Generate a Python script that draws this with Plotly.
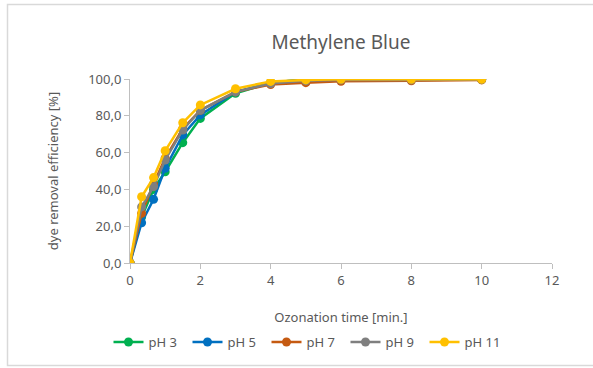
import plotly.graph_objects as go

times = [0, 0.33, 0.67, 1, 1.5, 2, 3, 4, 5, 6, 8, 10]
ph3 = [0, 25, 40, 49.6, 65.4, 78.6, 92.2, 98.0, 99.8, 99.8, 99.8, 99.8]
ph5 = [0, 21.9, 34.6, 51.5, 69.6, 80.5, 93.0, 98.0, 99.8, 99.8, 99.8, 99.8]
ph7 = [0, 27, 43, 57, 73, 83, 93.0, 97.0, 98.0, 98.8, 99.0, 99.5]
ph9 = [0, 30.5, 41.5, 56, 72.3, 83, 93.0, 97.5, 99.0, 99.5, 99.5, 99.7]
ph11 = [0, 36, 46.4, 61, 76.2, 85.9, 94.7, 98.7, 99.5, 99.8, 99.8, 99.8]

series = [
    ("pH 3", ph3, "#00B050"),
    ("pH 5", ph5, "#0070C0"),
    ("pH 7", ph7, "#C55A11"),
    ("pH 9", ph9, "#7F7F7F"),
    ("pH 11", ph11, "#FFC000"),
]

FONT = "Noto Sans"
fig = go.Figure()
for name, vals, col in series:
    fig.add_trace(go.Scatter(
        x=times, y=vals, name=name, mode="lines+markers",
        line=dict(color=col, width=2.5),
        marker=dict(color=col, size=9),
    ))

fig.update_layout(
    width=593, height=368,
    margin=dict(l=130, r=41, t=79, b=105, autoexpand=False),
    paper_bgcolor="white", plot_bgcolor="white",
    separators=",.",
    font=dict(family=FONT, color="#595959", size=13),
    title=dict(text="Methylene Blue", x=(130 + 552) / 2 / 593, xanchor="center",
               y=1 - 42 / 368, yanchor="middle",
               font=dict(size=19, color="#595959", family=FONT)),
    xaxis=dict(range=[0, 12], dtick=2, showgrid=False, zeroline=False,
               showline=True, linecolor="#BFBFBF", linewidth=1,
               ticks="outside", ticklen=5, tickcolor="#BFBFBF",
               tickfont=dict(size=13, color="#595959"),
               title=dict(text="Ozonation time [min.]", standoff=25,
                          font=dict(size=13, color="#595959"))),
    yaxis=dict(range=[0, 100], dtick=20, tickformat=".1f", showgrid=False,
               zeroline=False, showline=True, linecolor="#BFBFBF", linewidth=1,
               ticks="outside", ticklen=5, tickcolor="#BFBFBF",
               tickfont=dict(size=13, color="#595959"),
               title=dict(text="dye removal efficiency [%]", standoff=26,
                          font=dict(size=13, color="#595959"))),
    legend=dict(orientation="h", xref="container", yref="container",
                x=306 / 593, xanchor="center", y=1 - 342 / 368, yanchor="middle",
                font=dict(size=13, color="#595959"), itemwidth=30,
                entrywidth=34, entrywidthmode="pixels",
                tracegroupgap=0),
    showlegend=True,
)

fig.add_shape(type="rect", xref="paper", yref="paper",
              x0=(7.5 - 130) / 422, x1=(600 - 130) / 422,
              y0=(263 - 365.5) / 184, y1=(263 - 4.5) / 184,
              line=dict(color="#D9D9D9", width=1.5), fillcolor="rgba(0,0,0,0)",
              layer="below")

fig.write_html("out.html")
